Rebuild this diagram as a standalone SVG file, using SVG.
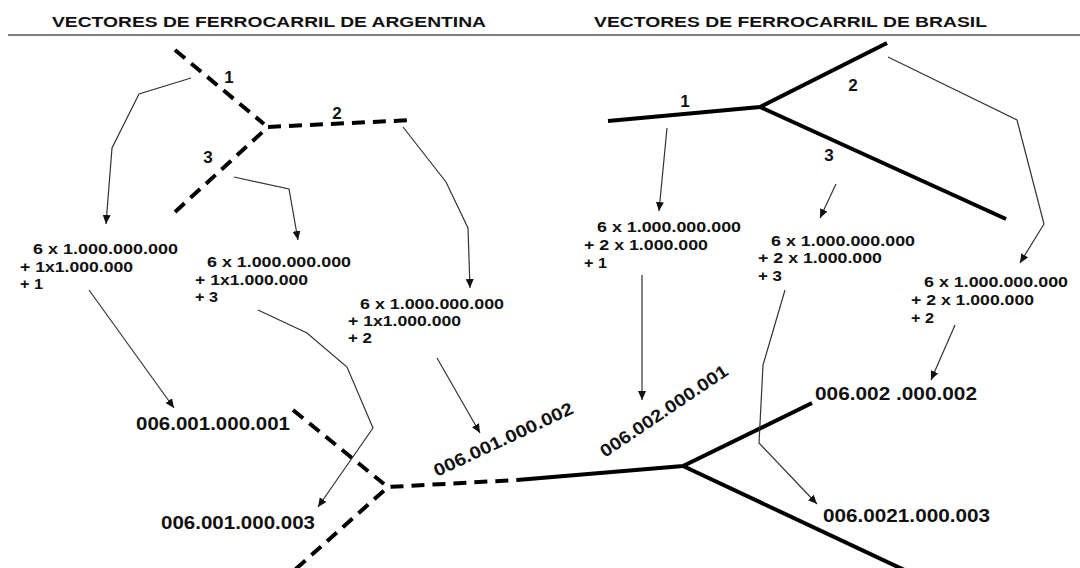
<svg xmlns="http://www.w3.org/2000/svg" width="1080" height="568" viewBox="0 0 1080 568">
<style>
text{font-family:"Liberation Sans",Arial,sans-serif;font-weight:bold;fill:#111}
.title{font-size:14px}
.sm{font-size:14px}
.lbl{font-size:17px;text-anchor:middle}
.code{font-size:17.5px}
.dash{fill:none;stroke:#000;stroke-width:4;stroke-dasharray:13 8}
.rail{fill:none;stroke:#000;stroke-width:4;stroke-linejoin:miter}
.arr{fill:none;stroke:#333;stroke-width:1.2;marker-end:url(#ah)}
</style>
<defs>
<marker id="ah" markerUnits="userSpaceOnUse" markerWidth="10" markerHeight="10" viewBox="0 0 10 10" refX="9" refY="5" orient="auto">
<path d="M0,1 L9,5 L0,9 Z" fill="#111"/>
</marker>
</defs>
<rect width="1080" height="568" fill="#fff"/>
<g id="header">
<line x1="8" y1="35" x2="1080" y2="35" stroke="#555" stroke-width="1.5"/>
<text class="title" x="52" y="27" textLength="434" lengthAdjust="spacingAndGlyphs">VECTORES DE FERROCARRIL DE ARGENTINA</text>
<text class="title" x="594" y="27" textLength="393" lengthAdjust="spacingAndGlyphs">VECTORES DE FERROCARRIL DE BRASIL</text>
</g>
<g id="arg-tree-top">
<line class="dash" x1="175" y1="50" x2="264" y2="124"/>
<polyline class="dash" points="175,212 268,127 412,120"/>
<text class="lbl" x="229" y="83">1</text>
<text class="lbl" x="337" y="119">2</text>
<text class="lbl" x="208" y="163">3</text>
</g>
<g id="bra-tree-top">
<polyline class="rail" points="608,121 760,107 887,43"/>
<line class="rail" x1="760" y1="107" x2="1006" y2="219"/>
<text class="lbl" x="685" y="107">1</text>
<text class="lbl" x="853" y="91">2</text>
<text class="lbl" x="829" y="161">3</text>
</g>
<g id="arg-calc-1">
<text class="sm" x="33" y="254" textLength="145" lengthAdjust="spacingAndGlyphs">6 x 1.000.000.000</text>
<text class="sm" x="20" y="272" textLength="113" lengthAdjust="spacingAndGlyphs">+ 1x1.000.000</text>
<text class="sm" x="20" y="289" textLength="23" lengthAdjust="spacingAndGlyphs">+ 1</text>
</g>
<g id="arg-calc-3">
<text class="sm" x="207" y="267" textLength="144" lengthAdjust="spacingAndGlyphs">6 x 1.000.000.000</text>
<text class="sm" x="195" y="285" textLength="113" lengthAdjust="spacingAndGlyphs">+ 1x1.000.000</text>
<text class="sm" x="195" y="302" textLength="23" lengthAdjust="spacingAndGlyphs">+ 3</text>
</g>
<g id="arg-calc-2">
<text class="sm" x="360" y="309" textLength="144" lengthAdjust="spacingAndGlyphs">6 x 1.000.000.000</text>
<text class="sm" x="348" y="326" textLength="113" lengthAdjust="spacingAndGlyphs">+ 1x1.000.000</text>
<text class="sm" x="348" y="343" textLength="24" lengthAdjust="spacingAndGlyphs">+ 2</text>
</g>
<g id="bra-calc-1">
<text class="sm" x="597" y="232" textLength="144" lengthAdjust="spacingAndGlyphs">6 x 1.000.000.000</text>
<text class="sm" x="584" y="250" textLength="124" lengthAdjust="spacingAndGlyphs">+ 2 x 1.000.000</text>
<text class="sm" x="584" y="268" textLength="23" lengthAdjust="spacingAndGlyphs">+ 1</text>
</g>
<g id="bra-calc-3">
<text class="sm" x="771" y="246" textLength="144" lengthAdjust="spacingAndGlyphs">6 x 1.000.000.000</text>
<text class="sm" x="758" y="263" textLength="124" lengthAdjust="spacingAndGlyphs">+ 2 x 1.000.000</text>
<text class="sm" x="758" y="281" textLength="24" lengthAdjust="spacingAndGlyphs">+ 3</text>
</g>
<g id="bra-calc-2">
<text class="sm" x="924" y="287" textLength="144" lengthAdjust="spacingAndGlyphs">6 x 1.000.000.000</text>
<text class="sm" x="911" y="305" textLength="123" lengthAdjust="spacingAndGlyphs">+ 2 x 1.000.000</text>
<text class="sm" x="911" y="323" textLength="23" lengthAdjust="spacingAndGlyphs">+ 2</text>
</g>
<g id="bottom-tree">
<line class="dash" x1="293" y1="410" x2="384" y2="484"/>
<polyline class="dash" points="280,583 388,487 517,480"/>
<polyline class="rail" points="517,480 683,466 812,403"/>
<line class="rail" x1="683" y1="466" x2="915" y2="575"/>
</g>
<g id="codes">
<text class="code" x="136" y="430" textLength="154" lengthAdjust="spacingAndGlyphs">006.001.000.001</text>
<text class="code" x="161" y="529" textLength="154" lengthAdjust="spacingAndGlyphs">006.001.000.003</text>
<text class="code" transform="translate(437,477) rotate(-25)" textLength="152" lengthAdjust="spacingAndGlyphs">006.001.000.002</text>
<text class="code" transform="translate(605,458) rotate(-34)" textLength="150" lengthAdjust="spacingAndGlyphs">006.002.000.001</text>
<text class="code" x="815" y="400" textLength="162" lengthAdjust="spacingAndGlyphs">006.002 .000.002</text>
<text class="code" x="823" y="522" textLength="167" lengthAdjust="spacingAndGlyphs">006.0021.000.003</text>
</g>
<g id="connectors">
<polyline class="arr" points="191,78 139,94 112,148 106,224"/>
<polyline class="arr" points="234,177 289,189 298,240"/>
<polyline class="arr" points="403,127 446,182 468,228 470,288"/>
<polyline class="arr" points="89,290 174,408"/>
<polyline class="arr" points="258,310 307,333 347,367 373,428 318,507"/>
<polyline class="arr" points="437,358 480,433"/>
<polyline class="arr" points="667,128 659,211"/>
<polyline class="arr" points="836,184 820,218"/>
<polyline class="arr" points="888,57 1017,120 1044,224 1020,263"/>
<polyline class="arr" points="642,275 642,400"/>
<polyline class="arr" points="785,290 763,365 759,443 817,504"/>
<polyline class="arr" points="955,325 931,380"/>
</g>
</svg>
